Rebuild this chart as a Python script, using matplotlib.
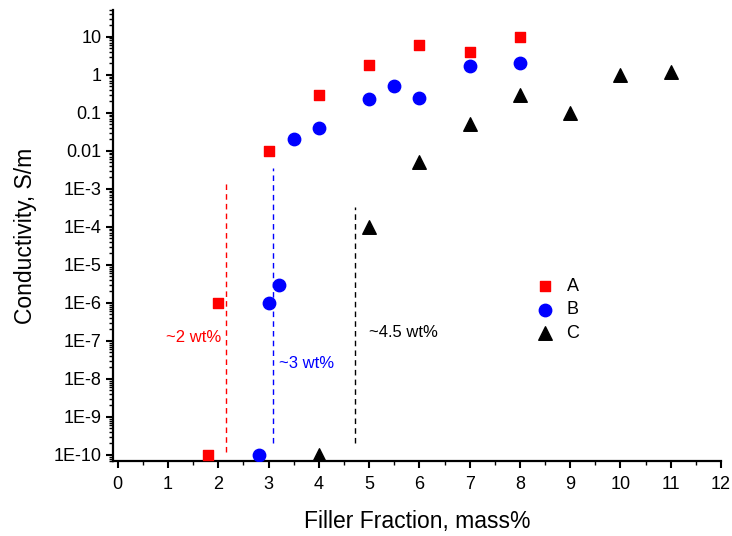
import numpy as np
import matplotlib.pyplot as plt
from matplotlib.ticker import FixedLocator, FuncFormatter, LogLocator, MultipleLocator

plt.rcParams['font.family'] = ['Liberation Sans', 'DejaVu Sans']

# data
a_x = [1.8, 2, 3, 4, 5, 6, 7, 8]
a_y = [1e-10, 1e-6, 0.01, 0.3, 1.8, 6.0, 4.0, 10.0]

b_x = [2.8, 3, 3.2, 3.5, 4, 5, 5.5, 6, 7, 8]
b_y = [1e-10, 1e-6, 3e-6, 0.02, 0.04, 0.23, 0.5, 0.25, 1.75, 2.0]

c_x = [4, 5, 6, 7, 8, 9, 10, 11]
c_y = [1e-10, 1e-4, 5e-3, 0.05, 0.3, 0.1, 1.0, 1.2]

# percolation threshold guides: x, y bottom, y top, colour, label
thr_x = [2.16, 3.09, 4.72]
thr_y0 = [1.2e-10, 2e-10, 2e-10]
thr_y1 = [1.5e-3, 3.5e-3, 3.4e-4]
thr_col = ['red', 'blue', 'black']
thr_lbl = ['~2 wt%', '~3 wt%', '~4.5 wt%']
thr_lbl_x = [0.95, 3.2, 5.0]
thr_lbl_y = [1.25e-7, 2.5e-8, 1.7e-7]

fig = plt.figure(figsize=(7.32, 5.36), dpi=100)
ax = fig.add_axes([0.154, 0.140, 0.831, 0.841])

ax.scatter(a_x, a_y, marker='s', s=62, color='red', label='A', zorder=3)
ax.scatter(b_x, b_y, marker='o', s=80, color='blue', label='B', zorder=3)
ax.scatter(c_x, c_y, marker='^', s=95, color='black', label='C', zorder=3)

for i in range(len(thr_x)):
    ax.plot([thr_x[i], thr_x[i]], [thr_y0[i], thr_y1[i]], color=thr_col[i],
            linestyle=(0, (4, 3)), linewidth=1)
    ax.text(thr_lbl_x[i], thr_lbl_y[i], thr_lbl[i], color=thr_col[i],
            fontsize=12, ha='left', va='center')

ax.set_yscale('log')
ax.set_xlim(-0.1, 12)
ax.set_ylim(10**-10.16, 50)

ax.xaxis.set_major_locator(MultipleLocator(1))
ax.xaxis.set_minor_locator(MultipleLocator(0.5))

yt = [10.0 ** k for k in range(-10, 2)]
ax.yaxis.set_major_locator(FixedLocator(yt))
ax.yaxis.set_minor_locator(LogLocator(base=10, subs=np.arange(2, 10), numticks=30))


def ylab(v, pos):
    k = int(round(np.log10(v)))
    if k >= 1:
        return '%d' % v
    if k >= -2:
        return ('%g' % v)
    return '1E%d' % k


ax.yaxis.set_major_formatter(FuncFormatter(ylab))
ax.yaxis.set_minor_formatter(FuncFormatter(lambda v, p: ''))

for s in ['top', 'right']:
    ax.spines[s].set_visible(False)
for s in ['left', 'bottom']:
    ax.spines[s].set_linewidth(1.6)

ax.tick_params(axis='both', which='major', direction='out', length=5, width=1.5,
               labelsize=13, colors='black')
ax.tick_params(axis='x', which='major', pad=6)
ax.tick_params(axis='y', which='major', pad=3)
ax.tick_params(axis='both', which='minor', direction='out', length=3, width=1.0)

ax.set_xlabel('Filler Fraction, mass%', fontsize=16.5, labelpad=12)
ax.set_ylabel('Conductivity, S/m', fontsize=16.5, labelpad=12)

ax.legend(loc='center left', bbox_to_anchor=(0.66, 0.335), frameon=False,
          fontsize=13, handletextpad=0.2, labelspacing=0.35, borderpad=0.2,
          scatterpoints=1)

fig.savefig('out.png', dpi=100)
